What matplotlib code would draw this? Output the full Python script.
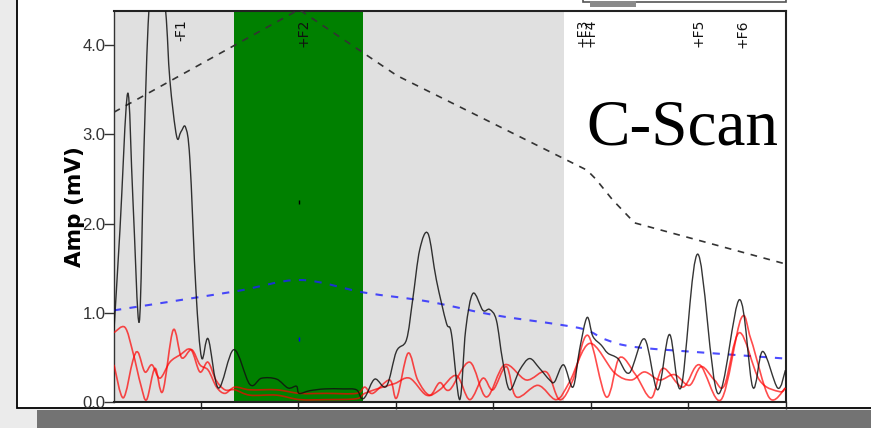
import matplotlib
matplotlib.use("Agg")
import matplotlib.pyplot as plt
import numpy as np
from matplotlib.path import Path
from matplotlib.patches import PathPatch, Rectangle

wave_x = [1.09, 1.70, 2.49, 3.03, 3.68, 4.16, 4.67, 5.49, 6.38, 6.82, 7.51, 7.95, 8.43, 8.87,
          9.49, 10.07, 10.75, 11.8, 13.38, 15.02, 16.22, 17.76, 18.94, 19.80, 20.07, 21.17,
          22.70, 24.58, 25.95, 26.46, 26.9, 27.83, 29.03, 30.05, 31.08, 31.72, 32.44, 33.29,
          34.15, 35.17, 35.69, 36.54, 37.15, 37.90, 38.92, 39.61, 40.30, 40.94, 41.66, 42.68,
          43.70, 44.73, 45.76, 46.27, 47.19, 48.15, 48.83, 49.60, 50.19, 51.06, 51.73, 52.76,
          53.95, 55.49, 56.85, 58.05, 59.25, 60.95, 63.00, 65.23, 66.59, 67.61, 69.15, 69.94]
wave_y = [0.81, 1.93, 3.46, 2.27, 0.90, 2.83, 4.39, 5.20, 4.39, 3.61, 2.98, 3.03, 3.08, 2.72,
          1.26, 0.50, 0.71, 0.16, 0.59, 0.20, 0.27, 0.26, 0.16, 0.18, 0.10, 0.13,
          0.15, 0.15, 0.14, 0.045, 0.07, 0.26, 0.18, 0.57, 0.70, 1.15, 1.71, 1.89,
          1.37, 0.89, 0.77, 0.03, 0.81, 1.22, 1.03, 1.04, 0.92, 0.47, 0.14, 0.36,
          0.49, 0.38, 0.25, 0.23, 0.42, 0.17, 0.59, 0.95, 0.74, 0.64, 0.55, 0.49,
          0.33, 0.71, 0.14, 0.76, 0.17, 1.66, 0.10, 1.15, 0.17, 0.57, 0.16, 0.36]

red1_x = [1.09, 2.21, 3.03, 3.85, 4.44, 5.29, 6.08, 7.16, 8.02, 9.05, 9.90, 10.75, 11.61, 12.46,
          13.48, 15.02, 17.76, 20.14, 22.88, 25.95, 26.80, 27.62, 29.36, 30.08, 31.24, 32.23,
          33.46, 34.49, 35.51, 37.56, 39.27, 41.15, 43.37, 45.42, 46.78, 48.15, 49.68, 51.57,
          52.93, 54.57, 56.18, 57.37, 59.42, 61.13, 63.35, 65.40, 66.42, 68.29, 69.94]
red1_y = [0.78, 0.84, 0.56, 0.19, 0.03, 0.38, 0.12, 0.81, 0.50, 0.59, 0.42, 0.36, 0.17, 0.10,
          0.17, 0.14, 0.14, 0.10, 0.10, 0.10, 0.17, 0.10, 0.25, 0.05, 0.55, 0.25,
          0.08, 0.22, 0.14, 0.45, 0.06, 0.42, 0.25, 0.34, 0.03, 0.25, 0.75, 0.06,
          0.50, 0.31, 0.05, 0.38, 0.17, 0.42, 0.03, 0.94, 0.70, 0.05, 0.16]

red2_x = [1.09, 2.04, 3.03, 3.55, 4.26, 4.98, 5.80, 6.82, 7.85, 8.98, 9.90, 10.72, 11.54, 12.46,
          13.48, 15.02, 17.76, 20.14, 22.88, 25.95, 26.80, 28.34, 29.88, 31.41, 33.13, 34.49,
          36.20, 37.56, 38.92, 39.95, 41.32, 42.35, 44.56, 46.44, 47.81, 49.86, 52.42, 54.13,
          55.49, 57.03, 58.57, 60.10, 61.30, 62.66, 63.69, 65.23, 67.27, 69.32, 69.94]
red2_y = [0.42, 0.05, 0.47, 0.56, 0.34, 0.42, 0.27, 0.45, 0.53, 0.59, 0.34, 0.45, 0.25, 0.14,
          0.14, 0.08, 0.08, 0.03, 0.03, 0.04, 0.10, 0.16, 0.21, 0.27, 0.08, 0.14,
          0.30, 0.03, 0.27, 0.14, 0.40, 0.06, 0.19, 0.03, 0.23, 0.66, 0.33, 0.25,
          0.34, 0.25, 0.31, 0.19, 0.40, 0.25, 0.19, 0.78, 0.25, 0.12, 0.16]

# DAC curve (black dashed) and reporting curve (blue dashed)
dac_x = [1.09, 20.07, 30.1, 49.6, 50.5, 52.2, 54.47, 69.94]
dac_y = [3.25, 4.40, 3.66, 2.60, 2.50, 2.27, 2.01, 1.55]
ref_x = [1.09, 13.38, 20.14, 26.7, 33.26, 39.92, 46.77, 49.52, 51.57, 54.47, 61.13, 69.94]
ref_y = [1.03, 1.24, 1.37, 1.23, 1.13, 0.98, 0.87, 0.81, 0.70, 0.62, 0.56, 0.49]

# shaded zones: gray, green (selected), gray
zones = [(1.09, 13.38, "#e0e0e0"), (13.38, 26.65, "#008000"), (26.65, 47.26, "#e0e0e0")]

flaw_names = ["-F1", "+F2", "+F3", "+F4", "+F5", "+F6"]
flaw_x = [8.05, 20.55, 49.18, 50.0, 61.02, 65.53]

yticks = [0.0, 1.0, 2.0, 3.0, 4.0]
xticks = [10, 20, 30, 40, 50, 60, 70]


def smooth(ax, xs, ys, **kw):
    # Catmull-Rom drawn as cubic bezier segments through the read points
    p = np.column_stack([xs, ys])
    verts = [p[0]]
    codes = [Path.MOVETO]
    n = len(p)
    for i in range(n - 1):
        p0 = p[i - 1] if i > 0 else p[i]
        p1, p2 = p[i], p[i + 1]
        p3 = p[i + 2] if i + 2 < n else p[i + 1]
        verts += [p1 + (p2 - p0) / 6, p2 - (p3 - p1) / 6, p2]
        codes += [Path.CURVE4] * 3
    ax.add_patch(PathPatch(Path(verts, codes), fill=False, **kw))


fig = plt.figure(figsize=(8.71, 4.28), dpi=100)
fig.patch.set_facecolor("#ebebeb")

# screen furniture around the plot
fig.add_artist(Rectangle((17 / 871, 20 / 428), 1, 1, transform=fig.transFigure,
                         facecolor="white", edgecolor="black", lw=1.3, zorder=-3))
fig.add_artist(Rectangle((37 / 871, 0), 1, 18 / 428, transform=fig.transFigure,
                         facecolor="#737373", edgecolor="none", zorder=-2))
fig.add_artist(Rectangle((583 / 871, 426 / 428), 203 / 871, 0.01, transform=fig.transFigure,
                         facecolor="white", edgecolor="#555555", lw=1.2, zorder=-2))
fig.add_artist(Rectangle((590 / 871, 421 / 428), 46 / 871, 6 / 428, transform=fig.transFigure,
                         facecolor="#8a8a8a", edgecolor="none", zorder=-1))

ax = fig.add_axes([114 / 871, 25.7 / 428, 672 / 871, 391 / 428])
ax.set_facecolor("white")

for x0, x1, c in zones:
    ax.axvspan(x0, x1, color=c, lw=0, zorder=0)

ax.plot(dac_x, dac_y, color="#333333", lw=1.2, linestyle=(0, (4, 4)), zorder=3)
smooth(ax, ref_x, ref_y, edgecolor="#2020ff", lw=1.5, linestyle=(0, (3.5, 4)), alpha=0.8, zorder=3)
smooth(ax, red1_x, red1_y, edgecolor="#ff0000", lw=1.2, alpha=0.7, zorder=4)
smooth(ax, red2_x, red2_y, edgecolor="#ff0000", lw=1.2, alpha=0.7, zorder=4)
smooth(ax, wave_x, wave_y, edgecolor="#111111", lw=1.0, alpha=0.85, zorder=5)

ax.plot([20.1], [2.24], marker="|", color="black", ms=3)
ax.plot([20.1], [0.71], marker="|", color="blue", ms=3)

for name, fx in zip(flaw_names, flaw_x):
    ax.text(fx, 0.98, name, transform=ax.get_xaxis_transform(), rotation=90,
            ha="center", va="top", fontsize=10, family="DejaVu Sans", color="#111111")

ax.text(0.988, 0.66, "C-Scan", transform=ax.transAxes, ha="right", va="baseline",
        fontsize=47, family="Liberation Serif", color="black")

ax.set_xlim(1.09, 70)
ax.set_ylim(0, 4.38)
ax.set_yticks(yticks)
ax.set_yticklabels([f"{v:.1f}" for v in yticks])
ax.set_xticks(xticks)
ax.set_xticklabels([])
ax.tick_params(axis="y", length=7, width=1, pad=-1, labelsize=12, colors="#333333")
ax.tick_params(axis="x", length=5, width=1, colors="#222222")
for t in ax.get_yticklabels():
    t.set_family("Liberation Sans")
ax.set_ylabel("Amp (mV)", fontsize=15.5, fontweight="bold", family="DejaVu Sans", labelpad=-1.5)

for s in ["top", "right", "bottom"]:
    ax.spines[s].set_linewidth(1.5)
    ax.spines[s].set_color("#222222")
ax.spines["left"].set_linewidth(1)
ax.spines["left"].set_color("#333333")

fig.savefig("out.png", dpi=100)
